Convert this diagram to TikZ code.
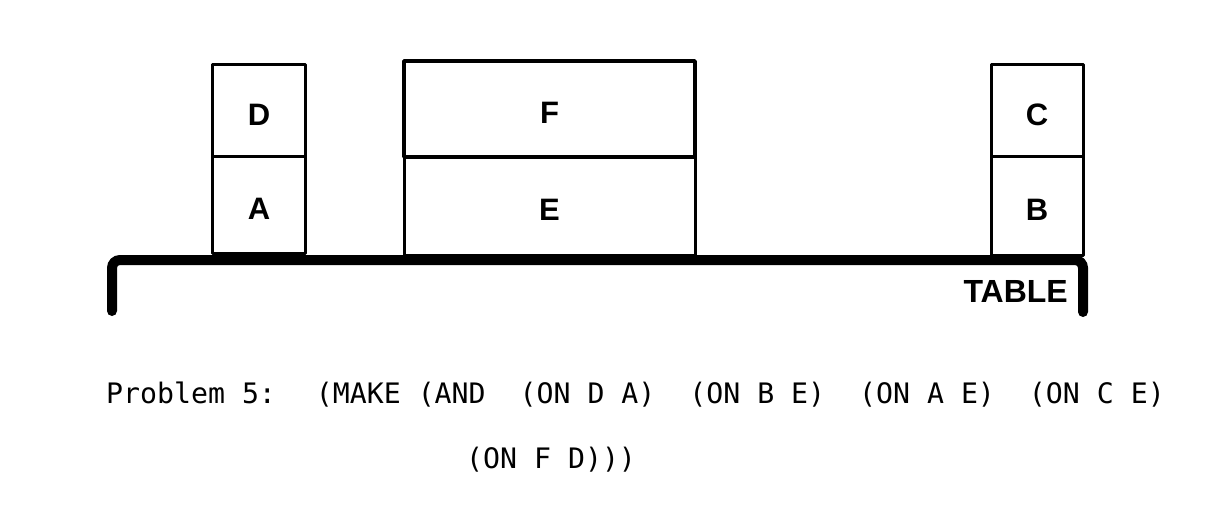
\documentclass[tikz,border=0pt]{standalone}
\usepackage{fontspec}
\setmainfont{Liberation Sans}
\newfontfamily\traceur{DejaVu Sans Mono}
\usepackage{tikz}
\usetikzlibrary{positioning}

\begin{document}
\begin{tikzpicture}[x=1pt, y=-1pt,
  bloc/.style={draw, line width=3pt, line join=round, inner sep=0pt, outer sep=0pt,
    text height=29pt, font=\fontsize{31}{33}\selectfont\bfseries},
  ecrit/.style={inner sep=0pt, font=\traceur\fontsize{28.2}{30}\selectfont}]
  \useasboundingbox (0,0) rectangle (1232,508);
  % Blocs du bas
  \node[bloc, minimum width=93, minimum height=96] (A) at (259,205) {A};
  \node[bloc, minimum width=291, minimum height=98] (E) at (549.5,206) {E};
  \node[bloc, minimum width=92, minimum height=98] (B) at (1037,206) {B};
  % Blocs du haut
  \node[bloc, minimum width=93, minimum height=92, above=0pt of A] (D) {D};
  \node[bloc, minimum width=291, minimum height=96, above=0pt of E, line width=3.5pt] (F) {F};
  \node[bloc, minimum width=92, minimum height=92, above=0pt of B] (C) {C};
  % Table
  \coordinate (pied g) at (112,311);
  \coordinate (coin g) at (112,260);
  \coordinate (coin d) at (1083,260);
  \coordinate (pied d) at (1083,312);
  \draw[line width=10pt, line cap=round] (pied g) [rounded corners=8pt] -- (coin g) -- (coin d) [sharp corners] -- (pied d);
  \node[anchor=base east, inner sep=0pt, font=\fontsize{32}{34}\selectfont\bfseries] (table) at (1068,302) {TABLE};
  % Enonce du probleme
  \node[ecrit, anchor=base west] (probleme) at (106,403) {Problem 5:};
  \node[ecrit, anchor=base east] (but) at (1165,403) {(MAKE (AND~~(ON D A)~~(ON B E)~~(ON A E)~~(ON C E)};
  \node[ecrit, anchor=base west] (suite) at (466,468) {(ON F D)))};
\end{tikzpicture}
\end{document}
